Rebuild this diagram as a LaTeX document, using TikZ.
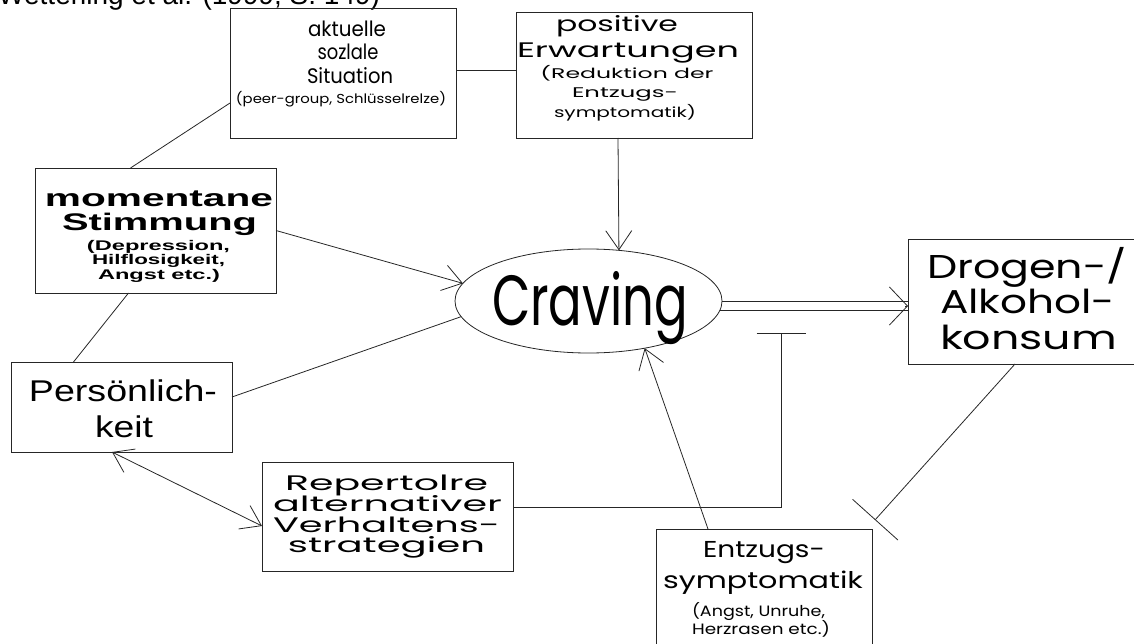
\documentclass[tikz,border=0pt]{standalone}
\usepackage{fontspec}
\usepackage{graphicx}
\usetikzlibrary{arrows.meta,shapes.geometric}
\newfontfamily\geo{Poppins}
\newfontfamily\ari{Liberation Sans}
\newcommand\fw[2]{\resizebox{#1pt}{\height}{#2}}
\newcommand\fs[1]{\fontsize{#1}{#1}\selectfont}
\begin{document}
\begin{tikzpicture}[x=1pt,y=-1pt,
  ln/.style={draw=black!85, line width=0.8pt},
  bx/.style={ln, rectangle, inner sep=0pt, outer sep=0pt},
  tx/.style={anchor=base, inner sep=0pt, outer sep=0pt, text=black},
  arr/.style={ln, -{Straight Barb[length=19pt,width=26pt]}},
  arrs/.style={ln, {Straight Barb[length=19pt,width=26pt]}-{Straight Barb[length=19pt,width=26pt]}},
  ]
\useasboundingbox (0,0) rectangle (1134,644);
\clip (0,0) rectangle (1134,644);

% title
\node[anchor=base west, inner sep=0pt, font=\ari\fs{28}] (title) at (-2,5) {Wetterling et al. (1999, S. 149)};

% boxes
\node[bx, minimum width=226pt, minimum height=130pt] (akt) at (343,73) {};
\node[bx, minimum width=236pt, minimum height=126pt] (pos) at (634,75) {};
\node[bx, minimum width=241pt, minimum height=125pt] (mom) at (155.5,230.5) {};
\node[bx, minimum width=221pt, minimum height=90pt] (pers) at (121.5,407) {};
\node[ln, ellipse, minimum width=267pt, minimum height=104pt, inner sep=0pt, outer sep=0pt] (crav) at (588.5,301) {};
\node[bx, minimum width=232pt, minimum height=125pt] (drog) at (1024,301.5) {};
\node[bx, minimum width=251pt, minimum height=109pt] (rep) at (387.5,516.5) {};
\node[bx, minimum width=216pt, minimum height=121pt] (ent) at (764,589.5) {};

% texts: aktuelle soziale Situation
\node[tx, font=\geo\fs{21}] (akt1) at (347,37) {\fw{78}{aktuelle}};
\node[tx, font=\geo\fs{21}] (akt2) at (348,60) {\fw{61}{sozlale}};
\node[tx, font=\geo\fs{21}] (akt3) at (350,84) {\fw{86}{Situation}};
\node[tx, font=\geo\fs{13}] (akt4) at (341,104) {\fw{210}{(peer-group, Schlüsselrelze)}};

% positive Erwartungen
\node[tx, font=\geo\fs{21}] (pos1) at (617,32) {\fw{122}{positive}};
\node[tx, font=\geo\fs{21}] (pos2) at (628,58) {\fw{222}{Erwartungen}};
\node[tx, font=\geo\fs{14}] (pos3) at (627,79) {\fw{173}{(Reduktion der}};
\node[tx, font=\geo\fs{14}] (pos4) at (625,98) {\fw{106}{Entzugs-}};
\node[tx, font=\geo\fs{14}] (pos5) at (625,118) {\fw{142}{symptomatik)}};

% momentane Stimmung
\node[tx, font=\ari\bfseries\fs{24}] (mom1) at (159,207) {\fw{228}{momentane}};
\node[tx, font=\ari\bfseries\fs{24}] (mom2) at (159.5,231) {\fw{195}{Stimmung}};
\node[tx, font=\ari\bfseries\fs{14}] (mom3) at (158.5,251) {\fw{143}{(Depression,}};
\node[tx, font=\ari\bfseries\fs{14}] (mom4) at (158.5,265) {\fw{133}{Hilflosigkeit,}};
\node[tx, font=\ari\bfseries\fs{14}] (mom5) at (159,279) {\fw{122}{Angst etc.)}};

% Persoenlichkeit
\node[tx, font=\ari\fs{30}] (pers1) at (123,401) {\fw{188}{Persönlich-}};
\node[tx, font=\ari\fs{30}] (pers2) at (124,437) {\fw{58}{keit}};

% Craving
\node[tx, font=\geo\fs{71}] (crav1) at (590,325) {\fw{196}{Craving}};

% Drogen
\node[tx, font=\geo\fs{33}] (drog1) at (1027,278) {\fw{200}{Drogen-/}};
\node[tx, font=\geo\fs{33}] (drog2) at (1027.5,313) {\fw{175}{Alkohol-}};
\node[tx, font=\geo\fs{33}] (drog3) at (1028.5,349) {\fw{177}{konsum}};

% Repertoire
\node[tx, font=\geo\fs{21}] (rep1) at (386.5,490) {\fw{203}{Repertolre}};
\node[tx, font=\geo\fs{21}] (rep2) at (387.5,511) {\fw{229}{alternativer}};
\node[tx, font=\geo\fs{21}] (rep3) at (386.5,532) {\fw{227}{Verhaltens-}};
\node[tx, font=\geo\fs{21}] (rep4) at (386.5,552) {\fw{197}{strategien}};

% Entzugssymptomatik
\node[tx, font=\geo\fs{23}] (ent1) at (764,557) {\fw{122}{Entzugs-}};
\node[tx, font=\geo\fs{23}] (ent2) at (763,588) {\fw{200}{symptomatik}};
\node[tx, font=\geo\fs{15}] (ent3) at (758.5,616) {\fw{133}{(Angst, Unruhe,}};
\node[tx, font=\geo\fs{15}] (ent4) at (761,634) {\fw{138}{Herzrasen etc.)}};

% free ends
\coordinate (tb1) at (781,333);
\coordinate (tb2) at (875,520);

% connectors
\draw[ln] ([yshift=3pt]akt.east) -- ([yshift=3pt]akt.east -| pos.west);
\draw[ln] ([yshift=-30pt]akt.west) -- ([xshift=-25pt]mom.north);
\draw[ln] ([xshift=-27pt]mom.south) -- ([xshift=-48pt]pers.north);
\draw[arr] (mom.east) -- (crav.172.6);
\draw[ln] ([yshift=10pt]pers.east) -- (crav.187.7);
\draw[arr] ([xshift=-16pt]pos.south) -- (crav.59.8);
\draw[ln] (crav.east) -- (crav.east -| drog.west);
\draw[ln] (crav.-4) -- (crav.-4 -| drog.west);
\draw[ln, -{Straight Barb[length=18pt,width=38pt]}] ([xshift=-3pt,yshift=-4.5pt]drog.west) -- ([yshift=-4.5pt]drog.west);
\draw[ln, -{Bar[width=49pt]}] ([yshift=9.5pt]rep.east) -| (tb1);
\draw[ln, -{Bar[width=61pt]}] ([xshift=-9pt]drog.south) -- (tb2);
\draw[arr] ([xshift=-56pt]ent.north) -- (crav.320.1);
\draw[arrs] ([xshift=-9.5pt]pers.south) -- ([yshift=-9.5pt]rep.west);
\end{tikzpicture}
\end{document}
